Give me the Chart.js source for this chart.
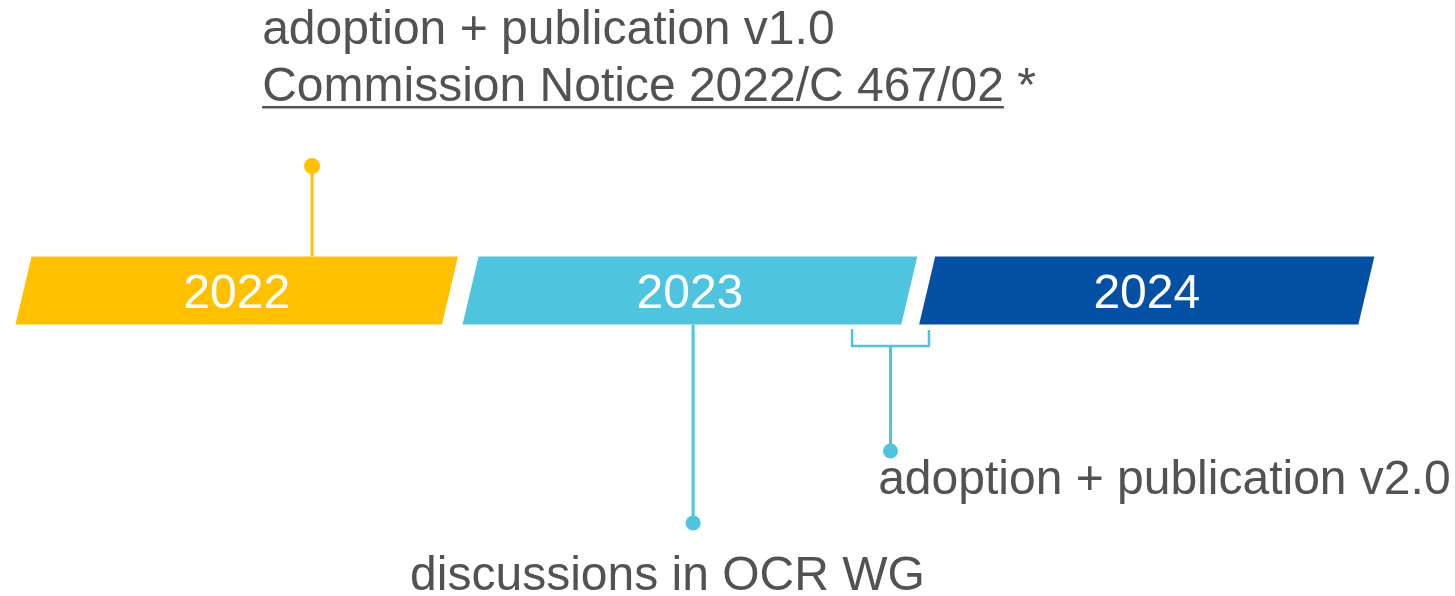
<!DOCTYPE html>
<html>
<head>
<meta charset="utf-8">
<script src="https://cdn.jsdelivr.net/npm/chart.js@4.4.1/dist/chart.umd.min.js"></script>
<style>
  html, body { margin: 0; padding: 0; background: #fff; }
  #wrap { width: 1455px; height: 596px; position: relative; }
</style>
</head>
<body>
<div id="wrap"><canvas id="timeline"></canvas></div>
<script>
// year bands (x in years, edges read at mid height of the band)
const years = ["2022", "2023", "2024"];
const barStart = [2022.047, 2023.023, 2024.020];
const barEnd = [2022.978, 2023.981, 2024.979];

// events (x in years, y in band heights, 0 = band middle)
const v1Date = 2022.677;
const v1Level = 1.831;
const wgDate = 2023.509;
const wgLevel = -3.419;
const v2From = 2023.856;
const v2To = 2024.024;
const v2Date = 2023.94;
const v2Level = -2.36;
const bracketTop = -0.581;
const bracketMid = -0.816;

// annotation texts and where they sit
const labelTexts = [
  "adoption + publication v1.0",
  "Commission Notice 2022/C 467/02",
  "adoption + publication v2.0",
  "discussions in OCR WG"
];
const labelX = [2022.568, 2022.568, 2023.913, 2022.891];
const labelY = [3.625, 2.787, -2.993, -4.404];

const YELLOW = "#FFC000";
const CYAN = "#4FC4DE";
const BLUE = "#0450A4";
const barColors = [YELLOW, CYAN, BLUE];
const TEXT = "#525252";
const FONT = "48px 'Liberation Sans', Arial, sans-serif";

const timelinePlugin = {
  id: "timeline",
  beforeDatasetsDraw(chart) {
    const c = chart.ctx;
    const x = chart.scales.x, y = chart.scales.y;
    const top = y.getPixelForValue(0.5), bottom = y.getPixelForValue(-0.5);
    const skew = (bottom - top) * 0.118;
    c.save();
    years.forEach((yr, i) => {
      const l = x.getPixelForValue(barStart[i]);
      const r = x.getPixelForValue(barEnd[i]);
      c.beginPath();
      c.moveTo(l + skew, top);
      c.lineTo(r + skew, top);
      c.lineTo(r - skew, bottom);
      c.lineTo(l - skew, bottom);
      c.closePath();
      c.fillStyle = barColors[i];
      c.fill();
      c.fillStyle = "#ffffff";
      c.font = FONT;
      c.textAlign = "center";
      c.textBaseline = "alphabetic";
      c.fillText(yr, (l + r) / 2, y.getPixelForValue(0) + 18);
    });
    c.restore();
  },
  afterDatasetsDraw(chart) {
    const c = chart.ctx;
    const x = chart.scales.x, y = chart.scales.y;
    c.save();
    c.font = FONT;
    c.fillStyle = TEXT;
    c.textAlign = "left";
    c.textBaseline = "alphabetic";
    labelTexts.forEach((t, i) => {
      const px = x.getPixelForValue(labelX[i]);
      const py = y.getPixelForValue(labelY[i]);
      c.fillText(t, px, py);
      if (i === 1) {
        const w = c.measureText(t).width;
        c.fillText(" *", px + w, py);
        c.fillRect(px, py + 5, w, 2.5);
      }
    });
    c.restore();
  }
};

new Chart(document.getElementById("timeline"), {
  type: "scatter",
  data: {
    datasets: [
      {
        data: [{ x: v1Date, y: 0.5 }, { x: v1Date, y: v1Level }],
        showLine: true,
        borderColor: YELLOW,
        backgroundColor: YELLOW,
        borderWidth: 3,
        pointRadius: [0, 8],
        pointBorderWidth: 0
      },
      {
        data: [{ x: wgDate, y: -0.5 }, { x: wgDate, y: wgLevel }],
        showLine: true,
        borderColor: CYAN,
        backgroundColor: CYAN,
        borderWidth: 3,
        pointRadius: [0, 7.5],
        pointBorderWidth: 0
      },
      {
        data: [
          { x: v2From, y: bracketTop },
          { x: v2From, y: bracketMid },
          { x: v2To, y: bracketMid },
          { x: v2To, y: bracketTop }
        ],
        showLine: true,
        borderColor: CYAN,
        borderWidth: 2.5,
        borderJoinStyle: "round",
        pointRadius: 0
      },
      {
        data: [{ x: v2Date, y: bracketMid }, { x: v2Date, y: v2Level }],
        showLine: true,
        borderColor: CYAN,
        backgroundColor: CYAN,
        borderWidth: 3,
        pointRadius: [0, 7.5],
        pointBorderWidth: 0
      }
    ]
  },
  options: {
    responsive: true,
    maintainAspectRatio: false,
    animation: false,
    layout: { padding: 0, autoPadding: false },
    plugins: { legend: { display: false }, tooltip: { enabled: false } },
    scales: {
      x: { type: "linear", display: false, min: 2021.99563, max: 2025.17249 },
      y: { type: "linear", display: false, min: -4.493, max: 4.272 }
    }
  },
  plugins: [timelinePlugin]
});
</script>
</body>
</html>
